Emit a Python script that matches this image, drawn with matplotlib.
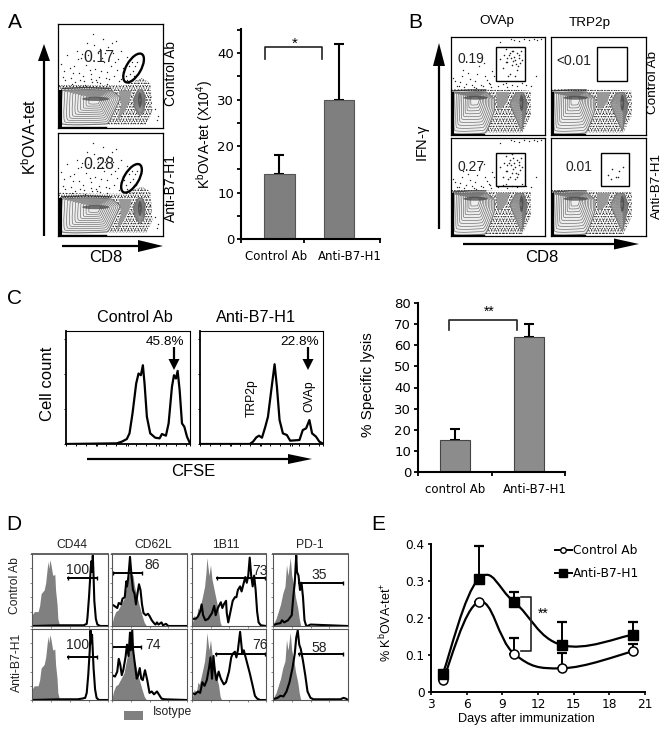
import matplotlib
matplotlib.use('Agg')
import matplotlib.pyplot as plt
from matplotlib.patches import Ellipse, Polygon, Rectangle, PathPatch
from matplotlib.path import Path

plt.rcParams['font.family'] = ['Liberation Sans', 'DejaVu Sans']
plt.rcParams['hatch.linewidth'] = 0.5
plt.rcParams['mathtext.default'] = 'regular'

W, H = 669, 733
VERDANA = 'DejaVu Sans'

# panel A bars
a_groups = ['Control Ab', 'Anti-B7-H1']
a_values = [14, 30]
a_errors = [4, 12]

# panel C bars
c_groups = ['control Ab', 'Anti-B7-H1']
c_values = [15, 64]
c_errors = [5.5, 6]

# panel E time course
e_days = [4, 7, 10, 14, 20]
e_control = [0.032, 0.243, 0.103, 0.064, 0.11]
e_control_err = [0, 0, 0.042, 0.041, 0.02]
e_anti = [0.05, 0.305, 0.243, 0.127, 0.155]
e_anti_err = [0, 0.09, 0.027, 0.063, 0.035]

# panel C histograms, channel / count
c_ctrl_x = [0, 152, 167, 182, 190, 199, 210, 217, 224, 230, 235, 242, 252, 267, 280, 287, 299, 307, 317, 323, 329, 334, 340, 347, 354, 362, 370]
c_ctrl_y = [0, 2, 7, 15, 32, 92, 182, 212, 207, 237, 182, 82, 32, 19, 17, 30, 25, 62, 172, 207, 197, 220, 162, 62, 52, 22, 4]
c_anti_x = [0, 150, 160, 170, 178, 187, 197, 205, 215, 225, 232, 240, 250, 262, 272, 300, 310, 320, 330, 338, 350, 360, 369]
c_anti_y = [0, 0, 7, 20, 25, 19, 52, 82, 162, 240, 172, 72, 32, 27, 10, 12, 42, 47, 72, 32, 22, 7, 2]

# panel D histograms, percent of box width / height
iso_cd44 = ([0, 3, 8, 10, 12, 16, 18, 20, 21, 22, 23.5, 25, 27, 28, 30, 31, 33, 34, 36, 38],
            [15, 20, 20, 28, 45, 50, 60, 80, 90, 80, 92, 85, 72, 70, 72, 50, 30, 10, 2, 0])
iso_cd62 = ([0, 2, 5, 8, 12, 16, 20, 24, 28, 30, 33, 36, 40, 43, 46],
            [2, 12, 20, 22, 30, 38, 60, 75, 70, 55, 42, 30, 15, 5, 0])
iso_1b11 = ([0, 3, 6, 8, 10, 14, 17, 19, 20, 23, 25, 27, 30, 33, 36, 38, 40],
            [2, 15, 10, 25, 22, 40, 55, 75, 95, 70, 85, 65, 50, 35, 20, 5, 0])
iso_pd1 = ([0, 4, 7, 10, 13, 16, 18, 20, 23, 25, 28, 30, 33, 35, 37],
           [2, 10, 20, 30, 45, 55, 85, 70, 95, 70, 55, 40, 25, 10, 0])

d_cd44_top = ([0, 38, 68, 72, 73, 75, 77, 78, 79, 80, 81, 82, 84, 86, 90, 100],
              [0, 1, 1, 3, 12, 40, 75, 90, 75, 98, 70, 35, 10, 2, 0, 0])
d_cd44_bot = ([0, 38, 60, 66, 70, 72, 74, 76, 77, 78, 79, 81, 83, 85, 88, 100],
              [0, 1, 1, 2, 3, 10, 35, 70, 98, 80, 92, 45, 15, 3, 0, 0])
d_cd62_top = ([0, 3, 7, 9, 12, 14, 17, 19, 20, 22, 24, 26, 28, 30, 32, 34, 36, 38, 40, 42, 45, 48, 50, 53, 56, 58, 60, 62, 66, 68, 72, 75, 100],
              [30, 28, 25, 32, 30, 38, 40, 62, 55, 70, 96, 70, 50, 45, 30, 45, 58, 50, 30, 18, 15, 17, 14, 8, 4, 2, 5, 2, 5, 1, 3, 0, 0])
d_cd62_bot = ([0, 4, 7, 9, 11, 13, 15, 18, 20, 22, 24, 25, 27, 28, 30, 33, 35, 37, 39, 41, 44, 47, 50, 53, 56, 60, 63, 66, 70, 100],
              [35, 33, 40, 58, 50, 35, 42, 60, 78, 62, 95, 70, 98, 72, 55, 30, 35, 45, 30, 28, 42, 28, 10, 12, 8, 12, 7, 2, 1, 0])
d_1b11_top = ([0, 5, 8, 11, 13, 15, 18, 22, 27, 30, 32, 35, 39, 41, 43, 46, 47, 49, 52, 55, 58, 60, 62, 65, 67, 70, 72, 74, 76, 78, 80, 82, 84, 86, 88, 90, 93, 100],
              [10, 10, 13, 20, 30, 15, 8, 10, 18, 28, 15, 25, 33, 25, 30, 35, 18, 5, 20, 35, 40, 40, 50, 55, 48, 60, 68, 60, 70, 95, 70, 55, 70, 50, 20, 5, 1, 0])
d_1b11_bot = ([0, 4, 8, 11, 14, 17, 20, 23, 25, 27, 29, 31, 33, 36, 39, 43, 46, 50, 53, 55, 58, 60, 62, 65, 68, 70, 72, 75, 78, 82, 85, 88, 92, 100],
              [10, 8, 12, 10, 25, 20, 28, 45, 60, 30, 62, 40, 28, 40, 30, 22, 25, 40, 60, 65, 68, 60, 70, 96, 65, 70, 62, 50, 38, 20, 6, 2, 0, 0])
d_pd1_top = ([0, 5, 10, 12, 15, 20, 25, 27, 29, 30, 31, 32, 34, 36, 38, 40, 42, 44, 46, 50, 100],
             [1, 3, 4, 8, 5, 8, 15, 40, 60, 80, 98, 75, 70, 50, 60, 40, 8, 1, 0, 2, 0])
d_pd1_bot = ([0, 6, 10, 14, 18, 22, 26, 29, 31, 33, 35, 37, 40, 43, 46, 50, 54, 90, 94, 97, 100],
             [1, 3, 6, 5, 12, 25, 45, 65, 88, 98, 78, 72, 55, 35, 12, 3, 1, 1, 3, 2, 0])

d_columns = ['CD44', 'CD62L', '1B11', 'PD-1']
d_top_numbers = ['100', '86', '73', '35']
d_bot_numbers = ['100', '74', '76', '58']

# flow outlines, fractions of the box
a_left_pop = [(0.04, 0.36), (0.27, 0.37), (0.50, 0.36), (0.59, 0.29), (0.51, 0.11), (0.46, 0.04), (0.04, 0.04)]
a_right_pop = [(0.76, 0.36), (0.80, 0.37), (0.83, 0.30), (0.82, 0.18), (0.78, 0.12), (0.73, 0.20), (0.72, 0.28)]
a_dense = [(0.0, 0.42), (0.35, 0.41), (0.62, 0.41), (0.80, 0.48), (0.88, 0.43), (0.90, 0.15), (0.84, 0.03), (0.48, 0.03), (0.0, 0.03)]
a_dark = [(0.58, 0.36), (0.70, 0.36), (0.68, 0.25), (0.62, 0.14), (0.56, 0.06), (0.60, 0.22)]
b_left_pop = [(0.02, 0.43), (0.20, 0.44), (0.37, 0.44), (0.46, 0.37), (0.46, 0.25), (0.41, 0.11), (0.355, 0.02), (0.02, 0.02)]
b_right_pop = [(0.69, 0.43), (0.77, 0.43), (0.81, 0.31), (0.77, 0.12), (0.75, 0.05), (0.70, 0.15), (0.63, 0.32)]
b_dense = [(0.0, 0.47), (0.46, 0.46), (0.70, 0.46), (0.85, 0.45), (0.85, 0.2), (0.76, 0.02), (0.36, 0.02), (0.0, 0.02)]
b_dark = [(0.48, 0.44), (0.62, 0.44), (0.60, 0.34), (0.54, 0.27), (0.49, 0.27)]
contour_levels = [0.92, 0.84, 0.76, 0.68, 0.60, 0.52, 0.44, 0.36, 0.28, 0.20]

# population peak: x, y of the core, core width, core height
a_left_core = (0.36, 0.28, 0.26, 0.04)
a_right_core = (0.78, 0.27, 0.035, 0.15)
b_left_core = (0.26, 0.38, 0.26, 0.04)
b_right_core = (0.75, 0.33, 0.04, 0.17)

# sparse events, fractions of the box
a_dots_x = [0.03, 0.06, 0.09, 0.12, 0.15, 0.18, 0.2, 0.22, 0.25, 0.28, 0.31, 0.33, 0.36, 0.38, 0.41, 0.43, 0.46, 0.48, 0.5, 0.53, 0.55, 0.57, 0.6, 0.62, 0.65, 0.07, 0.11, 0.16, 0.19, 0.24, 0.27, 0.32, 0.35, 0.39, 0.44, 0.47, 0.52, 0.58, 0.63, 0.66, 0.05, 0.14, 0.23, 0.3, 0.37, 0.42, 0.49, 0.54, 0.6, 0.34, 0.4, 0.45, 0.51, 0.29, 0.56, 0.72, 0.68, 0.75, 0.71, 0.74, 0.69, 0.73, 0.77, 0.7, 0.92, 0.95, 0.88, 0.94, 0.31, 0.47, 0.66, 0.26, 0.4, 0.13, 0.21]
a_dots_y = [0.62, 0.55, 0.7, 0.48, 0.6, 0.74, 0.53, 0.67, 0.45, 0.82, 0.52, 0.9, 0.46, 0.72, 0.55, 0.86, 0.48, 0.78, 0.6, 0.5, 0.84, 0.66, 0.47, 0.58, 0.5, 0.46, 0.58, 0.44, 0.66, 0.5, 0.61, 0.44, 0.57, 0.49, 0.63, 0.54, 0.72, 0.45, 0.54, 0.46, 0.49, 0.53, 0.71, 0.56, 0.44, 0.67, 0.47, 0.63, 0.74, 0.8, 0.76, 0.72, 0.82, 0.7, 0.56, 0.5, 0.6, 0.63, 0.55, 0.5, 0.52, 0.6, 0.55, 0.63, 0.18, 0.12, 0.3, 0.08, 0.47, 0.42, 0.68, 0.41, 0.43, 0.42, 0.46]
b_dots_x = [0.04, 0.08, 0.12, 0.16, 0.2, 0.24, 0.28, 0.32, 0.36, 0.4, 0.44, 0.06, 0.1, 0.14, 0.18, 0.22, 0.26, 0.3, 0.34, 0.38, 0.42, 0.46, 0.5, 0.55, 0.6, 0.65, 0.7, 0.75, 0.8, 0.85, 0.9, 0.02, 0.13, 0.27, 0.35, 0.43, 0.58, 0.52, 0.67, 0.72, 0.78, 0.64, 0.83, 0.88, 0.92, 0.96]
b_dots_y = [0.55, 0.5, 0.6, 0.52, 0.57, 0.49, 0.62, 0.51, 0.6, 0.53, 0.65, 0.5, 0.54, 0.49, 0.63, 0.51, 0.55, 0.7, 0.5, 0.56, 0.52, 0.6, 0.5, 0.52, 0.49, 0.51, 0.5, 0.53, 0.51, 0.5, 0.6, 0.58, 0.66, 0.48, 0.73, 0.49, 0.53, 0.95, 0.97, 0.96, 0.98, 0.98, 0.97, 0.98, 0.97, 0.98]
gate_ova_x = [0.52, 0.55, 0.58, 0.6, 0.62, 0.63, 0.65, 0.66, 0.67, 0.68, 0.7, 0.71, 0.72, 0.73, 0.74, 0.56, 0.61, 0.64, 0.69, 0.75, 0.58, 0.66, 0.7, 0.63, 0.68, 0.72, 0.6, 0.65]
gate_ova_y = [0.7, 0.6, 0.82, 0.66, 0.75, 0.6, 0.84, 0.68, 0.74, 0.58, 0.78, 0.63, 0.72, 0.67, 0.8, 0.75, 0.58, 0.72, 0.64, 0.7, 0.66, 0.8, 0.6, 0.78, 0.7, 0.76, 0.72, 0.64]
gate_ova_top_y = [0.78, 0.68, 0.88, 0.74, 0.82, 0.62, 0.86, 0.76, 0.8, 0.6, 0.84, 0.7, 0.79, 0.73, 0.86, 0.82, 0.6, 0.79, 0.72, 0.77, 0.74, 0.86, 0.66, 0.84, 0.77, 0.82, 0.79, 0.71]
gate_trp_x = [0.6, 0.64, 0.68, 0.72, 0.76, 0.63, 0.7]
gate_trp_y = [0.62, 0.68, 0.6, 0.66, 0.7, 0.58, 0.6]

fig = plt.figure(figsize=(W / 100, H / 100), dpi=100)


def px_axes(x0, y0, x1, y1):
    return fig.add_axes([x0 / W, 1 - y1 / H, (x1 - x0) / W, (y1 - y0) / H])


# overlay in picture pixels, for the labels and arrows
ov = fig.add_axes([0, 0, 1, 1], zorder=10)
ov.set_xlim(0, W)
ov.set_ylim(H, 0)
ov.axis('off')
ov.patch.set_alpha(0)


def arrow(x0, y0, x1, y1, head=11, wide=12):
    # shaft plus solid head, sizes in pixels
    ov.plot([x0, x1], [y0, y1], color='black', lw=1.6, solid_capstyle='butt')
    if x0 == x1:
        d = 1 if y1 > y0 else -1
        tri = [(x1, y1 + d * head), (x1 - wide / 2, y1), (x1 + wide / 2, y1)]
    else:
        d = 1 if x1 > x0 else -1
        tri = [(x1 + d * head, y1), (x1, y1 - wide / 2), (x1, y1 + wide / 2)]
    ov.add_patch(Polygon(tri, closed=True, color='black', lw=0))


def smooth_path(xs, ys, t=0.2):
    # excel style smoothed line through the points
    verts = [(xs[0], ys[0])]
    codes = [Path.MOVETO]
    n = len(xs)
    for i in range(n - 1):
        x_a, y_a = xs[max(i - 1, 0)], ys[max(i - 1, 0)]
        x_d, y_d = xs[min(i + 2, n - 1)], ys[min(i + 2, n - 1)]
        verts.append((xs[i] + (xs[i + 1] - x_a) * t, ys[i] + (ys[i + 1] - y_a) * t))
        verts.append((xs[i + 1] - (x_d - xs[i]) * t, ys[i + 1] - (y_d - ys[i]) * t))
        verts.append((xs[i + 1], ys[i + 1]))
        codes += [Path.CURVE4] * 3
    return Path(verts, codes)


def contour(outline, level, core):
    # one closed contour, pulled in towards the population peak
    pts = [(core[0] + (p[0] - core[0]) * level, core[1] + (p[1] - core[1]) * level) for p in outline]
    pts.append(pts[0])
    return smooth_path([p[0] for p in pts], [p[1] for p in pts], t=0.06)


def flow_box(rect, left, right, cores, dense, dark, dots, label, label_xy, gate=None, gate_dots=None, ellipse=None):
    ax = px_axes(*rect)
    ax.set_xlim(0, 1)
    ax.set_ylim(0, 1)
    ax.set_xticks([])
    ax.set_yticks([])
    for s in ax.spines.values():
        s.set_linewidth(0.9)
    ax.add_patch(Polygon(dense, closed=True, fill=False, hatch='.....', edgecolor='#222222', lw=0))
    ax.add_patch(Polygon(dense, closed=True, fill=False, hatch='.......', edgecolor='#333333', lw=0))
    ax.add_patch(Polygon(dark, closed=True, facecolor='#999999', edgecolor='none', hatch='.......'))
    ax.scatter(dots[0], dots[1], s=1.0, color='#222222', lw=0)
    for pop, core in zip((left, right), cores):
        ax.add_patch(PathPatch(contour(pop, 1.0, core), facecolor='#eeeeee', edgecolor='#777777', lw=0.8))
        for lev in contour_levels:
            ax.add_patch(PathPatch(contour(pop, lev, core), facecolor='none', edgecolor='#666666', lw=0.45))
        ax.add_patch(Ellipse(core[:2], core[2], core[3], facecolor='#444444', edgecolor='none', alpha=0.75))
    ax.plot([p[0] for p in left[:3]], [p[1] + 0.02 for p in left[:3]], color='#222222', lw=1.0, alpha=0.8)
    ax.plot([0.015, 0.015], [0, left[0][1]], color='black', lw=2.2)
    ax.plot([0, left[-2][0]], [0.012, 0.012], color='black', lw=1.0)
    if gate is not None:
        ax.add_patch(Rectangle((gate[0], gate[2]), gate[1] - gate[0], gate[3] - gate[2], fill=False, edgecolor='black', lw=1.0, zorder=4))
    if gate_dots is not None:
        ax.scatter(gate_dots[0], gate_dots[1], s=1.3, color='#222222', lw=0, zorder=4)
    if ellipse is not None:
        ax.add_patch(Ellipse((ellipse[0], ellipse[1]), 0.14, 0.31, angle=-30, fill=False, edgecolor='black', lw=1.7, zorder=5))
    ax.text(label_xy[0], label_xy[1], label, fontsize=label_xy[2], ha='center', va='center', transform=ax.transAxes, color='#222222')
    return ax


def bar_panel(rect, lo, hi, ymax, groups, label_pos, values, errors, width, color, edge, yticks, yminor, xtick_extra):
    ax = px_axes(*rect)
    ax.bar([1, 2], values, width=width, color=color, edgecolor=edge, linewidth=0.8, zorder=2)
    ax.errorbar([1, 2], values, yerr=[[0, 0], errors], fmt='none', ecolor='black', elinewidth=1.5, capsize=3.5, capthick=1.5, zorder=1)
    ax.set_xlim(lo, hi)
    ax.set_ylim(0, ymax)
    ax.spines['top'].set_visible(False)
    ax.spines['right'].set_visible(False)
    ax.spines['left'].set_linewidth(1.5)
    ax.spines['bottom'].set_linewidth(1.5)
    ax.set_xticks(label_pos)
    ax.set_xticklabels(groups, fontsize=8.5, family=VERDANA)
    ax.tick_params(axis='x', which='major', length=0, pad=8)
    ax.set_xticks([lo, xtick_extra, hi], minor=True)
    ax.tick_params(axis='x', which='minor', length=3, width=1.3, direction='out')
    ax.set_yticks(yticks)
    ax.set_yticks(yminor, minor=True)
    ax.set_yticklabels([str(v) for v in yticks], fontsize=9.5, family=VERDANA)
    ax.tick_params(axis='y', which='both', length=3, width=1.3, pad=2)
    ax.patch.set_alpha(0)
    return ax


# ---- panel A
a_cores = (a_left_core, a_right_core)
flow_box((58, 24, 163, 128), a_left_pop, a_right_pop, a_cores, a_dense, a_dark, (a_dots_x, a_dots_y), '0.17', (0.39, 0.68, 11.4), ellipse=(0.72, 0.577))
flow_box((58, 133, 163, 236), a_left_pop, a_right_pop, a_cores, a_dense, a_dark, (a_dots_x, a_dots_y), '0.28', (0.39, 0.69, 11.4), ellipse=(0.70, 0.56))

bar_panel((241, 29, 380, 239), 0.353, 2.689, 45.2, a_groups, [0.941, 2.185], a_values, a_errors, 0.52, '#7f7f7f', '#555555',
          [0, 10, 20, 30, 40], [5, 15, 25, 35, 45], 1.41)

ov.plot([265, 265, 321.5, 321.5], [59, 46.5, 46.5, 59], color='#222222', lw=1.2)
ov.text(295, 44, '*', fontsize=11, ha='center', va='center')
ov.text(15, 22, 'A', fontsize=15, ha='center', va='center')
ov.text(30, 137, 'K$^{b}$OVA-tet', fontsize=11.5, rotation=90, ha='center', va='center')
ov.text(205, 134, 'K$^{b}$OVA-tet (X10$^{4}$)', fontsize=10, rotation=90, ha='center', va='center')
ov.text(171, 74, 'Control Ab', fontsize=10, rotation=90, ha='center', va='center')
ov.text(171, 188, 'Anti-B7-H1', fontsize=10, rotation=90, ha='center', va='center')
ov.text(106, 258, 'CD8', fontsize=12, ha='center', va='center')
arrow(44, 236, 44, 61, head=17, wide=12)
arrow(62, 246, 138, 246, head=25, wide=12)

# ---- panel B
b_cores = (b_left_core, b_right_core)
flow_box((451, 37, 545, 135), b_left_pop, b_right_pop, b_cores, b_dense, b_dark, (b_dots_x, b_dots_y), '0.19', (0.21, 0.78, 10),
         gate=(0.479, 0.787, 0.55, 0.9), gate_dots=(gate_ova_x, gate_ova_top_y))
flow_box((551, 37, 646, 135), b_left_pop, b_right_pop, b_cores, b_dense, b_dark, ([], []), '<0.01', (0.245, 0.76, 10),
         gate=(0.484, 0.8, 0.55, 0.9))
flow_box((451, 138, 545, 236), b_left_pop, b_right_pop, b_cores, b_dense, b_dark, (b_dots_x, b_dots_y), '0.27', (0.21, 0.70, 10),
         gate=(0.479, 0.787, 0.51, 0.847), gate_dots=(gate_ova_x, gate_ova_y))
flow_box((551, 138, 646, 236), b_left_pop, b_right_pop, b_cores, b_dense, b_dark, ([], []), '0.01', (0.29, 0.70, 10),
         gate=(0.53, 0.82, 0.51, 0.847), gate_dots=(gate_trp_x, gate_trp_y))

ov.text(415, 22, 'B', fontsize=15, ha='center', va='center')
ov.text(497, 21, 'OVAp', fontsize=9.7, ha='center', va='center')
ov.text(590, 23, 'TRP2p', fontsize=9.7, ha='center', va='center')
ov.text(423, 143, 'IFN-$\\gamma$', fontsize=10.5, rotation=90, ha='center', va='center')
ov.text(653, 82, 'Control Ab', fontsize=9.7, rotation=90, ha='center', va='center')
ov.text(657, 186, 'Anti-B7-H1', fontsize=9.7, rotation=90, ha='center', va='center')
ov.text(542, 258, 'CD8', fontsize=12, ha='center', va='center')
arrow(439, 229, 439, 66, head=23, wide=12)
arrow(463, 244, 614, 244, head=25, wide=11)

# ---- panel C histograms
for rect, xs, ys in (((66, 331, 190, 444), c_ctrl_x, c_ctrl_y), ((200, 331, 323, 444), c_anti_x, c_anti_y)):
    ax = px_axes(*rect)
    ax.plot(xs, ys, color='black', lw=1.6)
    ax.set_xlim(0, 371)
    ax.set_ylim(0, 340)
    ax.set_xticks([0, 92, 185, 278, 371])
    ax.set_xticks(list(range(0, 371, 30)), minor=True)
    ax.set_yticks([0, 105, 210, 315])
    ax.set_xticklabels([])
    ax.set_yticklabels([])
    ax.tick_params(which='both', length=1.5, width=0.7)
    ax.spines['left'].set_linewidth(1.3)
    ax.spines['bottom'].set_linewidth(1.3)
    ax.spines['top'].set_linewidth(0.8)
    ax.spines['right'].set_linewidth(0.8)

ov.text(14, 298, 'C', fontsize=15, ha='center', va='center')
ov.text(135, 318, 'Control Ab', fontsize=11.7, ha='center', va='center')
ov.text(256, 318, 'Anti-B7-H1', fontsize=11.7, ha='center', va='center')
ov.text(165, 342, '45.8%', fontsize=9.7, ha='center', va='center')
ov.text(300, 342, '22.8%', fontsize=9.7, ha='center', va='center')
ov.text(48, 384, 'Cell count', fontsize=12, rotation=90, ha='center', va='center')
ov.text(252, 398, 'TRP2p', fontsize=8.7, rotation=90, ha='center', va='center')
ov.text(309, 396, 'OVAp', fontsize=8.7, rotation=90, ha='center', va='center')
ov.text(193, 471, 'CFSE', fontsize=12, ha='center', va='center')
arrow(174, 347, 174, 359, head=11, wide=11)
arrow(308, 347, 308, 359, head=11, wide=11)
arrow(87, 459, 288, 459, head=24, wide=10)

# ---- panel C bars
bar_panel((418, 303, 565, 472), 0.5, 2.486, 80, c_groups, [1.0, 2.08], c_values, c_errors, 0.405, '#8c8c8c', '#444444',
          [0, 10, 20, 30, 40, 50, 60, 70, 80], [], 1.5)
ov.plot([449, 449, 517, 517], [330, 320, 320, 330], color='#222222', lw=1.2)
ov.text(489, 312, '**', fontsize=10, ha='center', va='center')
ov.text(368, 385, '% Specific lysis', fontsize=11, rotation=90, ha='center', va='center')

# ---- panel D
d_cols = [(32, 108), (112, 187), (192, 266), (273, 348)]
d_rows = [(554, 626), (629, 700)]
d_iso = [iso_cd44, iso_cd62, iso_1b11, iso_pd1]
d_curves = [[d_cd44_top, d_cd62_top, d_1b11_top, d_pd1_top], [d_cd44_bot, d_cd62_bot, d_1b11_bot, d_pd1_bot]]
d_gates = [[(47, 85, 67), (1, 40, 74), (34, 99, 67), (35, 93, 60)],
           [(48, 86, 61), (0, 38, 74), (33, 98, 65), (35, 93, 65)]]
d_numbers = [d_top_numbers, d_bot_numbers]
d_num_xy = [[(60, 78), (54, 85), (92, 77), (61, 71)], [(60, 77), (55, 77), (92, 77), (61, 73)]]

for r, (y0, y1) in enumerate(d_rows):
    for c, (x0, x1) in enumerate(d_cols):
        ax = px_axes(x0, y0, x1, y1)
        ax.fill_between(d_iso[c][0], d_iso[c][1], color='#808080', lw=0)
        ax.plot(d_curves[r][c][0], d_curves[r][c][1], color='black', lw=1.5)
        g = d_gates[r][c]
        ax.plot([g[0], g[1]], [g[2], g[2]], color='black', lw=1.4, marker='|', ms=3)
        ax.text(d_num_xy[r][c][0], d_num_xy[r][c][1], d_numbers[r][c], fontsize=10, ha='center', va='center', color='#222222')
        ax.set_xlim(0, 100)
        ax.set_ylim(0, 100)
        ax.set_xticks([0, 25, 50, 75, 100])
        ax.set_yticks([0, 20, 40, 60, 80, 100])
        ax.set_xticklabels([])
        ax.set_yticklabels([])
        ax.tick_params(length=1.2, width=0.5, color='#555555')
        for s in ax.spines.values():
            s.set_color('#555555')
            s.set_linewidth(0.8)
        if r == 0:
            ax.spines['top'].set_linewidth(1.3)

for c, (x0, x1) in enumerate(d_cols):
    ov.text((x0 + x1) / 2 + [2, 4, -3, -1][c], 545, d_columns[c], fontsize=8.7, ha='center', va='center', color='#222222')
ov.text(14, 524, 'D', fontsize=15, ha='center', va='center')
ov.text(15, 586, 'Control Ab', fontsize=8.7, rotation=90, ha='center', va='center', color='#222222')
ov.text(17, 662, 'Anti-B7-H1', fontsize=8.7, rotation=90, ha='center', va='center', color='#222222')
ov.add_patch(Rectangle((124, 711), 19, 9, color='#808080', lw=0))
ov.text(172, 712, 'Isotype', fontsize=8.7, ha='center', va='center', color='#222222')

# ---- panel E
ax = px_axes(431, 544, 645, 692)
ax.errorbar(e_days, e_anti, yerr=[[0] * 5, e_anti_err], fmt='none', ecolor='black', elinewidth=1.4, capsize=3.5, capthick=1.6, zorder=2)
ax.errorbar(e_days, e_control, yerr=[[0] * 5, e_control_err], fmt='none', ecolor='black', elinewidth=1.4, capsize=3.5, capthick=1.6, zorder=2)
ax.add_patch(PathPatch(smooth_path(e_days, e_anti), fill=False, edgecolor='black', lw=1.6, zorder=3))
ax.add_patch(PathPatch(smooth_path(e_days, e_control), fill=False, edgecolor='black', lw=1.6, zorder=3))
ax.plot(e_days, e_control, linestyle='none', marker='o', ms=6.5, mfc='white', mec='black', mew=1.1, zorder=4)
ax.plot(e_days, e_anti, linestyle='none', marker='s', ms=6.5, color='black', zorder=5)
ax.set_xlim(3, 21)
ax.set_ylim(0, 0.4)
ax.spines['top'].set_visible(False)
ax.spines['right'].set_visible(False)
ax.spines['left'].set_linewidth(1.4)
ax.spines['bottom'].set_linewidth(1.4)
ax.set_xticks([3, 6, 9, 12, 15, 18, 21])
ax.set_yticks([0, 0.1, 0.2, 0.3, 0.4])
ax.set_xticklabels(['3', '6', '9', '12', '15', '18', '21'], fontsize=8.7, family=VERDANA)
ax.set_yticklabels(['0', '0.1', '0.2', '0.3', '0.4'], fontsize=8.7, family=VERDANA)
ax.tick_params(length=2.5, width=1.2, pad=2)
ax.patch.set_alpha(0)

handles = [plt.Line2D([], [], color='black', lw=1.4, marker='o', ms=4, mfc='white', mec='black'),
           plt.Line2D([], [], color='black', lw=1.4, marker='s', ms=5.5)]
ov.legend(handles, ['Control Ab', 'Anti-B7-H1'], frameon=False, handlelength=1.35, handletextpad=0.1, borderpad=0, borderaxespad=0,
          labelspacing=0.85, loc='upper left', bbox_to_anchor=(555 / W, 1 - 544 / H), bbox_transform=fig.transFigure,
          prop={'family': VERDANA, 'size': 8.8})

ov.plot([521, 531, 531, 521], [597, 597, 651, 651], color='#222222', lw=1.2)
ov.text(543, 614, '**', fontsize=10, ha='center', va='center')
ov.text(378, 524, 'E', fontsize=15, ha='center', va='center')
ov.text(386, 622, '% K$^{b}$OVA-tet$^{+}$', fontsize=9, rotation=90, ha='center', va='center')
ov.text(526, 719, 'Days after immunization', fontsize=9.2, ha='center', va='center')

plt.savefig('out.png', dpi=100)
